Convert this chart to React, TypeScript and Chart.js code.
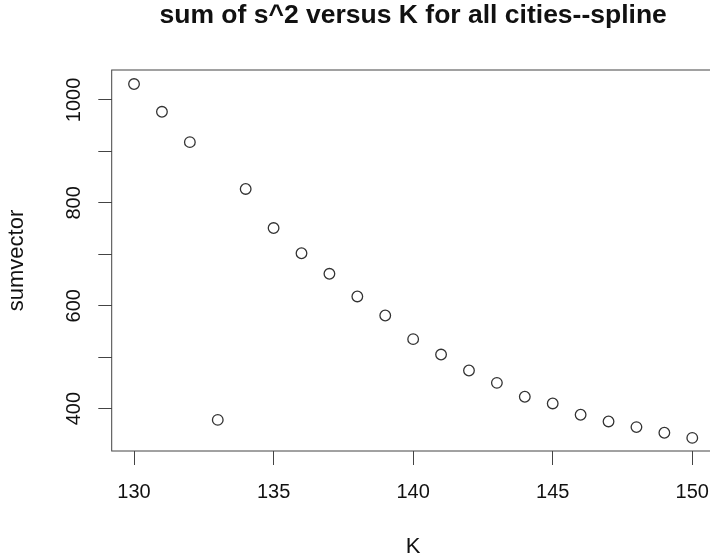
import React, { useEffect, useRef } from 'react';
import { Chart, registerables } from 'chart.js';

Chart.register(...registerables);

// ---- data ----
const K = [130, 131, 132, 133, 134, 135, 136, 137, 138, 139, 140, 141, 142, 143, 144, 145, 146, 147, 148, 149, 150];
const sumvector = [1031, 977, 918, 378, 827, 751, 702, 662, 618, 581, 535, 505, 474, 450, 423, 410, 388, 375, 364, 353, 343];

const xTickValues = [130, 135, 140, 145, 150];
const yTickValues = [400, 500, 600, 700, 800, 900, 1000];
const yLabelStep = 200;
const xLimits = [129.2, 150.8];
const yLimits = [317.5, 1058.3];

const TITLE = 'sum of s^2 versus K for all cities--spline';
const X_TITLE = 'K';
const Y_TITLE = 'sumvector';

const FONT = '"Liberation Sans", Arial, Helvetica, sans-serif';
const INK = '#111';
const LINE = '#444';

const CANVAS_W = 740;
const CANVAS_H = 559;

const boxPlugin = {
  id: 'rbox',
  afterDatasetsDraw(chart: any) {
    const { ctx, chartArea: a } = chart;
    ctx.save();
    ctx.strokeStyle = LINE;
    ctx.lineWidth = 1;
    ctx.strokeRect(a.left, a.top, a.right - a.left, a.bottom - a.top);
    ctx.restore();
  },
};

export default function App() {
  const ref = useRef<HTMLCanvasElement | null>(null);

  useEffect(() => {
    if (!ref.current) return;
    const points = K.map((k, i) => ({ x: k, y: sumvector[i] }));
    const chart = new Chart(ref.current, {
      type: 'scatter',
      data: {
        datasets: [
          {
            data: points,
            showLine: false,
            pointStyle: 'circle',
            pointRadius: 5.3,
            pointHoverRadius: 5.3,
            pointBorderWidth: 1.3,
            borderColor: '#333',
            backgroundColor: 'rgba(0,0,0,0)',
            pointBackgroundColor: 'rgba(0,0,0,0)',
            pointBorderColor: '#333',
          },
        ],
      },
      options: {
        responsive: false,
        animation: false,
        devicePixelRatio: 1,
        layout: { padding: { left: 0, top: 0, right: 25.4, bottom: 0 } },
        plugins: {
          legend: { display: false },
          tooltip: { enabled: false },
          title: {
            display: true,
            text: TITLE,
            fullSize: false,
            color: INK,
            font: { family: FONT, size: 26.5, weight: 'bold', lineHeight: 1.2 },
            padding: { top: 0, bottom: 38.2 },
          },
        },
        scales: {
          x: {
            type: 'linear',
            position: 'bottom',
            min: xLimits[0],
            max: xLimits[1],
            afterBuildTicks: (scale: any) => {
              scale.ticks = xTickValues.map((v) => ({ value: v }));
            },
            afterFit: (scale: any) => {
              scale.height = 108;
            },
            ticks: {
              autoSkip: false,
              maxRotation: 0,
              minRotation: 0,
              color: INK,
              padding: 15.4,
              font: { family: FONT, size: 20, lineHeight: 1.2 },
              callback: (v: any) => String(v),
            },
            grid: {
              drawOnChartArea: false,
              drawTicks: true,
              tickLength: 14,
              color: LINE,
              lineWidth: 1,
            },
            border: { display: false },
            title: {
              display: true,
              text: X_TITLE,
              color: INK,
              font: { family: FONT, size: 22, lineHeight: 1.1 },
              padding: { top: 0, bottom: 0 },
            },
          },
          y: {
            type: 'linear',
            position: 'left',
            min: yLimits[0],
            max: yLimits[1],
            afterBuildTicks: (scale: any) => {
              scale.ticks = yTickValues.map((v) => ({ value: v }));
            },
            afterFit: (scale: any) => {
              scale.width = 111.7;
            },
            ticks: {
              autoSkip: false,
              minRotation: 90,
              maxRotation: 90,
              crossAlign: 'center',
              color: INK,
              padding: 2,
              font: { family: FONT, size: 20, lineHeight: 1.2 },
              callback: (v: any) => (Number(v) % yLabelStep === 0 ? String(v) : ''),
            },
            grid: {
              drawOnChartArea: false,
              drawTicks: true,
              tickLength: 13.4,
              color: LINE,
              lineWidth: 1,
            },
            border: { display: false },
            title: {
              display: true,
              text: Y_TITLE,
              color: INK,
              font: { family: FONT, size: 22, lineHeight: 1.2 },
              padding: { top: 4.2, bottom: 0 },
            },
          },
        },
      },
      plugins: [boxPlugin],
    } as any);
    return () => chart.destroy();
  }, []);

  return (
    <div
      style={{
        position: 'fixed',
        left: 0,
        top: 0,
        width: 710,
        height: 559,
        overflow: 'hidden',
        background: '#fff',
      }}
    >
      <canvas
        ref={ref}
        width={CANVAS_W}
        height={CANVAS_H}
        style={{ display: 'block', width: CANVAS_W, height: CANVAS_H }}
      />
    </div>
  );
}
